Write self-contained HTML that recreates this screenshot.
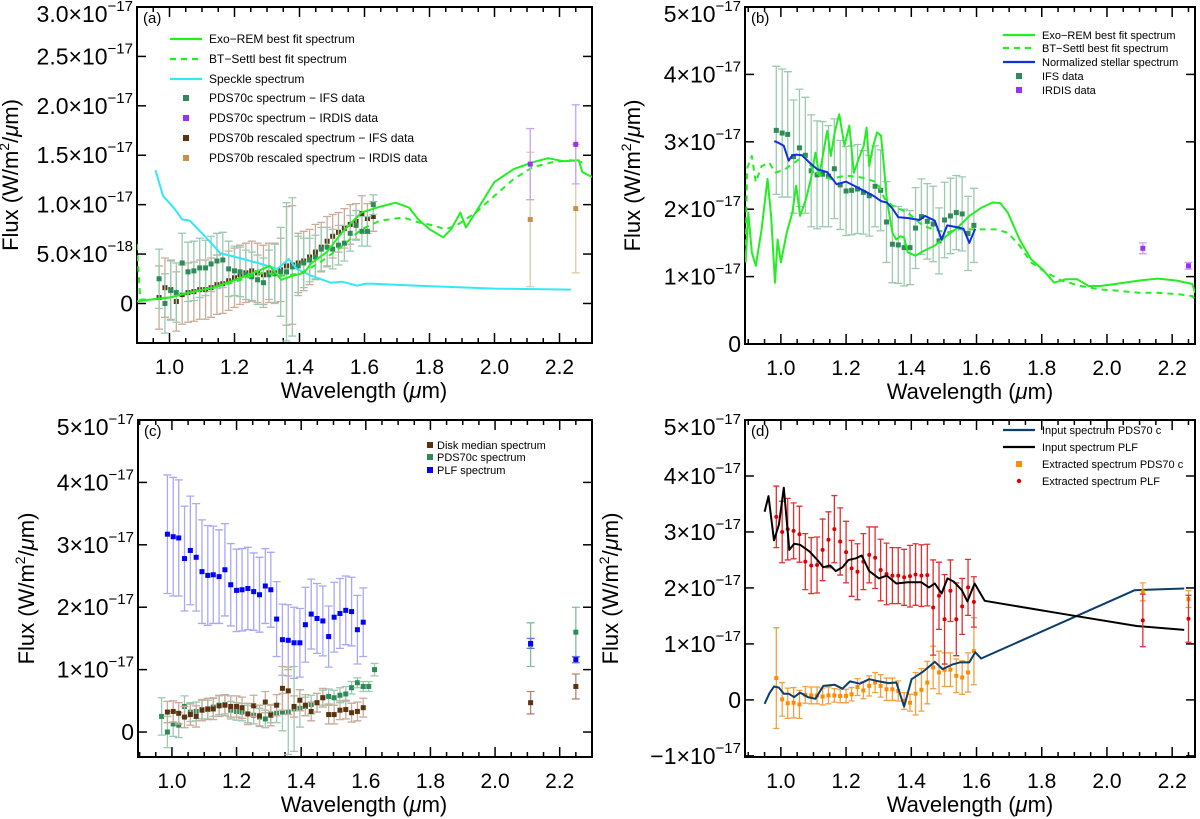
<!DOCTYPE html>
<html><head><meta charset="utf-8">
<style>
html,body{margin:0;padding:0;background:#fff;}
svg{display:block;font-family:"Liberation Sans",sans-serif;}
</style></head>
<body>
<svg id="fig" width="1200" height="819" viewBox="0 0 1200 819" xmlns="http://www.w3.org/2000/svg"></svg>
<script>
// ---------- shared data ----------
const ifsWl = [0.968,0.986,1.004,1.021,1.039,1.057,1.075,1.093,1.111,1.128,1.146,1.164,1.182,1.200,1.217,1.235,1.253,1.271,1.289,1.306,1.324,1.342,1.360,1.378,1.396,1.413,1.431,1.449,1.467,1.485,1.502,1.520,1.538,1.556,1.574,1.592,1.609,1.627];
const plfWl = [0.986,1.004,1.021,1.039,1.057,1.075,1.093,1.111,1.128,1.146,1.164,1.182,1.200,1.217,1.235,1.253,1.271,1.289,1.306,1.324,1.342,1.360,1.378,1.396,1.413,1.431,1.449,1.467,1.485,1.502,1.520,1.538,1.556,1.574,1.592];
const irdisWl = [2.11,2.25];

// PDS70c IFS (green)
const cFlux = [0.25,0.0,0.13,0.11,0.41,0.32,0.33,0.36,0.36,0.40,0.43,0.44,0.35,0.33,0.32,0.29,0.27,0.24,0.21,0.29,0.30,0.32,0.32,0.37,0.38,0.41,0.44,0.47,0.55,0.57,0.55,0.59,0.61,0.71,0.79,0.73,0.73,1.0];
const cErrA = [0.3,0.3,0.3,0.3,0.3,0.3,0.3,0.3,0.28,0.28,0.28,0.28,0.28,0.25,0.25,0.25,0.25,0.25,0.25,0.25,0.3,0.45,0.7,0.7,0.3,0.25,0.22,0.22,0.22,0.2,0.2,0.2,0.18,0.18,0.15,0.15,0.15,0.1];
const cErrC = [0.3,0.25,0.2,0.2,0.17,0.15,0.15,0.15,0.15,0.15,0.15,0.15,0.14,0.14,0.14,0.14,0.14,0.14,0.14,0.14,0.15,0.3,0.68,0.68,0.3,0.15,0.15,0.15,0.12,0.12,0.12,0.12,0.12,0.1,0.08,0.08,0.08,0.1];
const cIrdis = [1.41,1.61];
const cIrdisErr = [0.36,0.4];
const cIrdisC = [1.40,1.60];
const cIrdisErrC = [0.35,0.4];

// PDS70b rescaled IFS (brown) panel a
const bFlux = [0.06,0.16,0.14,0.02,0.09,0.11,0.12,0.14,0.14,0.16,0.19,0.20,0.23,0.26,0.29,0.31,0.33,0.31,0.29,0.31,0.31,0.34,0.38,0.39,0.41,0.43,0.47,0.52,0.57,0.63,0.68,0.72,0.76,0.80,0.83,0.91,0.86,0.88];
const bErr = [0.32,0.3,0.3,0.3,0.3,0.3,0.3,0.3,0.3,0.3,0.3,0.3,0.3,0.3,0.3,0.3,0.3,0.3,0.3,0.3,0.3,0.32,0.6,0.6,0.3,0.3,0.28,0.28,0.25,0.25,0.22,0.2,0.2,0.2,0.18,0.18,0.15,0.15];
const bIrdis = [0.85,0.96];
const bIrdisErr = [0.68,0.65];

// Exo-REM / BT-Settl / speckle (panel a)
const exoAWl = [0.898,0.945,1.0,1.062,1.133,1.203,1.273,1.308,1.344,1.379,1.414,1.437,1.484,1.531,1.59,1.649,1.696,1.737,1.766,1.801,1.842,1.866,1.895,1.912,1.936,2.0,2.059,2.118,2.165,2.212,2.259,2.27,2.3];
const exoAF = [0.02,0.04,0.06,0.11,0.16,0.24,0.33,0.38,0.24,0.28,0.31,0.41,0.52,0.72,0.92,0.98,1.02,0.97,0.85,0.75,0.67,0.75,0.92,0.77,0.89,1.23,1.36,1.43,1.47,1.44,1.45,1.33,1.28];
const btAWl = [0.9,0.902,0.91,0.945,1.0,1.062,1.133,1.203,1.273,1.297,1.344,1.4,1.461,1.531,1.59,1.649,1.72,1.766,1.813,1.848,1.883,1.942,2.0,2.059,2.118,2.177,2.235,2.27];
const btAF = [0.6,0.45,0.04,0.04,0.06,0.11,0.16,0.22,0.3,0.31,0.28,0.3,0.41,0.58,0.75,0.84,0.87,0.82,0.79,0.75,0.79,0.92,1.09,1.26,1.38,1.43,1.45,1.43];
const speckWl = [0.957,0.98,1.015,1.039,1.062,1.109,1.156,1.203,1.273,1.332,1.367,1.391,1.437,1.496,1.531,1.578,1.601,1.625,1.766,2.0,2.235];
const speckF = [1.35,1.09,0.96,0.85,0.84,0.68,0.51,0.47,0.41,0.35,0.45,0.35,0.28,0.21,0.22,0.18,0.2,0.2,0.18,0.15,0.14];

// PLF (panel b IFS data / panel c blue)
const plfFlux = [3.17,3.13,3.11,2.78,2.91,2.80,2.57,2.51,2.52,2.49,2.60,2.36,2.27,2.28,2.30,2.25,2.20,2.34,2.28,1.81,1.48,1.47,1.43,1.43,1.72,1.89,1.82,1.78,1.53,1.84,1.90,1.95,1.93,1.64,1.76];
const plfErr = [0.95,0.95,0.93,0.84,0.87,0.86,0.83,0.8,0.78,0.75,0.74,0.66,0.66,0.66,0.66,0.62,0.6,0.6,0.6,0.6,0.57,0.57,0.57,0.55,0.6,0.56,0.56,0.56,0.49,0.56,0.56,0.55,0.55,0.55,0.55];
const plfIrdis = [1.42,1.16];
const plfIrdisErr = [0.08,0.05];

// panel b models
const exoBWl = [0.892,0.9,0.911,0.923,0.941,0.959,0.97,0.982,0.99,1.0,1.018,1.035,1.047,1.059,1.077,1.092,1.106,1.118,1.142,1.153,1.165,1.179,1.195,1.21,1.224,1.238,1.254,1.263,1.271,1.283,1.295,1.307,1.316,1.325,1.342,1.354,1.366,1.378,1.389,1.413,1.437,1.472,1.507,1.543,1.578,1.614,1.649,1.673,1.696,1.732,1.767,1.802,1.838,1.873,1.909,1.944,1.979,2.026,2.097,2.156,2.215,2.262,2.27];
const exoBF = [1.21,1.95,1.36,1.16,1.7,2.45,1.9,0.91,1.55,1.21,1.65,1.95,2.35,1.9,2.15,2.45,2.84,2.5,3.16,2.79,3.14,3.41,2.94,3.24,2.54,2.74,2.94,3.21,2.64,2.94,3.14,3.09,2.64,2.15,1.65,1.55,1.6,1.58,1.36,1.31,1.38,1.46,1.6,1.73,1.9,2.02,2.1,2.09,1.95,1.55,1.26,1.11,0.91,0.96,0.96,0.86,0.86,0.89,0.94,0.97,0.94,0.89,0.76];
const btBWl = [0.892,0.896,0.911,0.923,0.941,0.965,0.982,1.012,1.035,1.071,1.106,1.153,1.2,1.248,1.295,1.319,1.342,1.389,1.437,1.472,1.507,1.543,1.59,1.625,1.66,1.696,1.732,1.767,1.814,1.861,1.92,1.979,2.038,2.097,2.156,2.215,2.262,2.27];
const btBF = [1.3,2.6,2.79,2.4,2.64,2.69,2.54,2.59,2.67,2.79,2.54,2.45,2.5,2.47,2.4,2.15,2.05,1.95,1.75,1.7,1.65,1.7,1.7,1.7,1.7,1.65,1.46,1.21,1.06,0.94,0.86,0.81,0.79,0.76,0.76,0.74,0.71,0.66];
const starWl = [0.98,0.994,1.009,1.024,1.035,1.047,1.065,1.088,1.112,1.142,1.171,1.2,1.224,1.26,1.283,1.307,1.325,1.342,1.36,1.389,1.425,1.442,1.472,1.493,1.51,1.543,1.56,1.578,1.596];
const starF = [3.01,2.98,2.94,2.72,2.80,2.81,2.80,2.69,2.59,2.55,2.37,2.41,2.35,2.26,2.20,2.12,2.1,2.01,1.88,1.87,1.84,1.90,1.83,1.55,1.76,1.73,1.71,1.5,1.71];

// panel c disk median
const diskFlux = [0.32,0.33,0.30,0.24,0.28,0.25,0.35,0.37,0.37,0.42,0.43,0.41,0.41,0.39,0.29,0.42,0.26,0.48,0.27,0.43,0.70,0.66,0.41,0.51,0.43,0.33,0.47,0.55,0.28,0.28,0.35,0.36,0.31,0.33,0.39];
const diskErr = [0.17,0.17,0.17,0.17,0.17,0.17,0.17,0.17,0.17,0.17,0.17,0.17,0.17,0.17,0.17,0.17,0.17,0.17,0.17,0.17,0.35,0.38,0.17,0.17,0.17,0.15,0.15,0.15,0.15,0.15,0.15,0.15,0.15,0.15,0.15];
const diskIrdis = [0.47,0.73];
const diskIrdisErr = [0.18,0.2];

// panel d
const inPlfWl = [0.95,0.962,0.979,0.994,1.009,1.026,1.041,1.059,1.088,1.112,1.13,1.151,1.168,1.189,1.207,1.23,1.248,1.271,1.301,1.325,1.354,1.389,1.431,1.454,1.472,1.493,1.511,1.531,1.555,1.572,1.594,1.625,1.861,2.091,2.237];
const inPlfF = [3.36,3.64,2.85,3.13,3.79,2.68,2.79,2.77,2.65,2.5,2.37,2.4,2.3,2.37,2.5,2.53,2.58,2.3,2.17,2.22,2.08,2.1,2.1,2.01,2.08,1.9,2.17,2.11,1.96,1.76,2.08,1.77,1.54,1.32,1.25];
const inCWl = [0.95,0.965,0.979,0.994,1.009,1.024,1.041,1.059,1.083,1.106,1.13,1.165,1.189,1.212,1.242,1.271,1.301,1.33,1.354,1.378,1.401,1.437,1.472,1.496,1.525,1.549,1.578,1.596,1.614,2.085,2.237];
const inCF = [-0.07,0.12,0.24,0.22,0.11,0.11,0.05,0.13,0.05,0.02,0.25,0.27,0.2,0.33,0.29,0.37,0.33,0.3,0.31,-0.12,0.37,0.51,0.68,0.55,0.63,0.67,0.67,0.85,0.74,1.96,1.99];
const exPlfF = [3.27,3.0,3.05,3.02,2.96,2.47,2.40,2.41,2.68,2.86,3.05,2.83,2.64,2.35,2.29,2.47,2.59,2.54,2.32,2.25,2.22,2.22,2.19,2.21,2.24,2.22,2.23,1.65,1.86,1.44,1.95,1.44,1.67,2.01,1.75];
const exPlfErr = [0.55,0.55,0.55,0.5,0.5,0.5,0.5,0.5,0.55,0.5,0.6,0.6,0.55,0.5,0.5,0.5,0.5,0.55,0.55,0.55,0.5,0.5,0.5,0.55,0.55,0.55,0.55,0.85,0.6,0.8,0.55,0.65,0.5,0.5,0.45];
const exPlfIrdis = [1.42,1.45];
const exPlfIrdisErr = [0.47,0.42];
const exCF = [0.39,0.01,-0.06,-0.05,-0.08,0.09,0.08,0.08,0.06,0.08,0.08,0.07,0.07,0.1,0.23,0.17,0.25,0.31,0.25,0.19,0.19,0.16,-0.02,-0.05,0.11,0.18,0.31,0.58,0.49,0.54,0.54,0.43,0.4,0.49,0.87];
const exCErr = [0.9,0.3,0.27,0.27,0.25,0.15,0.15,0.15,0.15,0.15,0.12,0.12,0.12,0.12,0.15,0.15,0.18,0.18,0.2,0.2,0.2,0.18,0.15,0.15,0.38,0.38,0.38,0.38,0.38,0.3,0.3,0.3,0.3,0.35,0.6];
const exCIrdis = [1.93,1.80];
const exCIrdisErr = [0.16,0.15];

// tick labels
const xTicks = [1.0,1.2,1.4,1.6,1.8,2.0,2.2];
const xTickLabels = ["1.0","1.2","1.4","1.6","1.8","2.0","2.2"];
const aYTicks = [0,0.5,1.0,1.5,2.0,2.5,3.0];
const aYMant = ["0","5.0×10","1.0×10","1.5×10","2.0×10","2.5×10","3.0×10"];
const aYExp = ["","−18","−17","−17","−17","−17","−17"];
const bYTicks = [0,1,2,3,4,5];
const bYMant = ["0","1×10","2×10","3×10","4×10","5×10"];
const bYExp = ["","−17","−17","−17","−17","−17"];
const dYTicks = [-1,0,1,2,3,4,5];
const dYMant = ["−1×10","0","1×10","2×10","3×10","4×10","5×10"];
const dYExp = ["−17","","−17","−17","−17","−17","−17"];

// ---------- drawing ----------
const NS = "http://www.w3.org/2000/svg";
const fig = document.getElementById('fig');
function mk(tag, attrs, parent){
  const e = document.createElementNS(NS, tag);
  for (const k in attrs) e.setAttribute(k, attrs[k]);
  (parent||fig).appendChild(e);
  return e;
}
function makePanel(P){
  const g = mk('g', {});
  
  
  P.g = g;
  P.sx = v => P.x0 + (v - P.xmin) / (P.xmax - P.xmin) * (P.x1 - P.x0);
  P.sy = v => P.y1 - (v - P.ymin) / (P.ymax - P.ymin) * (P.y1 - P.y0);
  return P;
}
function drawAxes(P, yT, yM, yE, ylabX, titleX){
  const g = P.g;
  const fr = mk('rect', {x:P.x0, y:P.y0, width:P.x1-P.x0, height:P.y1-P.y0, fill:'none', stroke:'#000', 'stroke-width':2}, g);
  
  
  for (let k = 0; k <= 30; k++){
    const v = 0.85 + k*0.05;
    if (v < P.xmin - 1e-6 || v > P.xmax + 1e-6) continue;
    const x = P.sx(v);
    const major = Math.abs(v*5 - Math.round(v*5)) < 1e-6;
    const L = major ? 10 : 5;
    const t1 = mk('line', {x1:x, x2:x, y1:P.y1, y2:P.y1-L, stroke:'#000', 'stroke-width':1.5}, g);
    
    
    const t2 = mk('line', {x1:x, x2:x, y1:P.y0, y2:P.y0+L, stroke:'#000', 'stroke-width':1.5}, g);
    
    
  }
  xTicks.forEach((v,i) => {
    const t = mk('text', {x:P.sx(v), y:P.y1+31, 'font-size':21, 'text-anchor':'middle'}, g);
    t.textContent = xTickLabels[i];
    
    
  });
  yT.forEach((v,i) => {
    const y = P.sy(v);
    const a = mk('line', {x1:P.x0, x2:P.x0+9, y1:y, y2:y, stroke:'#000', 'stroke-width':1.5}, g);
    
    
    const b = mk('line', {x1:P.x1, x2:P.x1-9, y1:y, y2:y, stroke:'#000', 'stroke-width':1.5}, g);
    
    
    const ly = (i === yT.length - 1) ? y + 15 : y + 8;
    const t = mk('text', {x:P.x0-4, y:ly, 'font-size':23, 'text-anchor':'end'}, g);
    
    
    const m = mk('tspan', {}, t); m.textContent = yM[i];
    if (yE[i]) { const s = mk('tspan', {'font-size':15, dy:-11}, t); s.textContent = yE[i]; }
  });
  const yl = mk('text', {transform:`translate(${ylabX},${(P.y0+P.y1)/2}) rotate(-90)`, 'font-size':22, 'text-anchor':'middle'}, g);
  
  
  yl.innerHTML = 'Flux  (W/m<tspan font-size="14" dy="-9">2</tspan><tspan dy="9">/</tspan><tspan font-style="italic">μ</tspan>m)';
  const xl = mk('text', {x:titleX, y:P.y1+55, 'font-size':22, 'text-anchor':'middle'}, g);
  
  
  xl.innerHTML = 'Wavelength  (<tspan font-style="italic">μ</tspan>m)';
  const pl = mk('text', {x:P.x0+6, y:P.y0+16, 'font-size':15}, g);
  pl.textContent = P.tag;
  
  
}
function clipFor(P){
  const id = 'clip-' + P.name;
  const cp = mk('clipPath', {id:id});
  mk('rect', {x:P.x0, y:P.y0, width:P.x1-P.x0, height:P.y1-P.y0}, cp);
  return 'url(#' + id + ')';
}
function drawLine(P, xs, ys, color, w, dash, name){
  let d = '';
  xs.forEach((x,i) => { d += (i ? 'L' : 'M') + P.sx(x).toFixed(1) + ',' + P.sy(ys[i]).toFixed(1); });
  const p = mk('path', {d:d, fill:'none', stroke:color, 'stroke-width':w, 'stroke-dasharray':dash||'none', 'clip-path':P.clip, 'stroke-linejoin':'round'}, P.g);
  
  
}
function drawPoints(P, xs, ys, es, color, ecolor, size, cap, name, round){
  xs.forEach((xv,i) => {
    const x = P.sx(xv), y = P.sy(ys[i]);
    if (es){
      const yt = P.sy(ys[i]+es[i]), yb = P.sy(ys[i]-es[i]);
      const e = mk('path', {d:`M${x},${yt}L${x},${yb}M${x-cap},${yt}L${x+cap},${yt}M${x-cap},${yb}L${x+cap},${yb}`, stroke:ecolor, 'stroke-width':1.3, fill:'none'}, P.g);
      
      
    }
    const r = round ? mk('circle', {cx:x, cy:y, r:size/2, fill:color}, P.g)
                    : mk('rect', {x:x-size/2, y:y-size/2, width:size, height:size, fill:color}, P.g);
    
    
  });
}
function legend(P, items, lx0, lx1, tx, fs){
  items.forEach(it => {
    if (it.type === 'line'){
      const l = mk('line', {x1:lx0, x2:lx1, y1:it.y-4, y2:it.y-4, stroke:it.color, 'stroke-width':2.2, 'stroke-dasharray':it.dash||'none'}, P.g);
      
      
    } else {
      const cx = (lx0+lx1)/2;
      const s = it.round ? mk('circle', {cx:cx, cy:it.y-4, r:2.2, fill:it.color}, P.g)
                         : mk('rect', {x:cx-3, y:it.y-7, width:6, height:6, fill:it.color}, P.g);
      
      
    }
    const t = mk('text', {x:tx, y:it.y, 'font-size':fs}, P.g);
    t.textContent = it.label;
    
    
  });
}

const GREEN = '#2e8b57', GREEN_E = '#9cc9b0', LIME = '#22ee22';

// Panel A
const A = makePanel({name:'panel-a', tag:'(a)', x0:137, x1:592, y0:7, y1:343, xmin:0.9, xmax:2.3, ymin:-0.4, ymax:3.0});
A.clip = clipFor(A);
drawAxes(A, aYTicks, aYMant, aYExp, 18, 364);
drawPoints(A, ifsWl, bFlux, bErr, '#5a3410', '#c8ad9c', 5, 4, 'pds70b-ifs');
drawPoints(A, ifsWl, cFlux, cErrA, GREEN, GREEN_E, 5, 4, 'pds70c-ifs');
drawLine(A, speckWl, speckF, '#33e8f5', 2, null, 'speckle-spectrum');
drawLine(A, btAWl, btAF, LIME, 2, '6,5', 'bt-settl-fit');
drawLine(A, exoAWl, exoAF, LIME, 2, null, 'exo-rem-fit');
drawPoints(A, irdisWl, bIrdis, bIrdisErr, '#c8904a', '#e2c9a8', 5, 4, 'pds70b-irdis');
drawPoints(A, irdisWl, cIrdis, cIrdisErr, '#9933ee', '#c9a3f0', 5, 4, 'pds70c-irdis');
legend(A, [
  {type:'line', color:LIME, y:43, label:'Exo−REM best fit spectrum'},
  {type:'line', color:LIME, dash:'6,5', y:63, label:'BT−Settl best fit spectrum'},
  {type:'line', color:'#33e8f5', y:83, label:'Speckle spectrum'},
  {type:'pt', color:GREEN, y:102, label:'PDS70c spectrum  −  IFS data'},
  {type:'pt', color:'#9933ee', y:122, label:'PDS70c spectrum  −  IRDIS data'},
  {type:'pt', color:'#5a3410', y:142, label:'PDS70b rescaled spectrum  −  IFS data'},
  {type:'pt', color:'#c8904a', y:162, label:'PDS70b rescaled spectrum  −  IRDIS data'}
], 170, 202, 209, 12);

// Panel B
const B = makePanel({name:'panel-b', tag:'(b)', x0:745, x1:1195, y0:7, y1:344, xmin:0.89, xmax:2.27, ymin:0, ymax:5});
B.clip = clipFor(B);
drawAxes(B, bYTicks, bYMant, bYExp, 640, 970);
drawPoints(B, plfWl, plfFlux, plfErr, GREEN, GREEN_E, 5, 4, 'ifs-data');
drawLine(B, btBWl, btBF, LIME, 2, '6,5', 'bt-settl-fit');
drawLine(B, exoBWl, exoBF, LIME, 2, null, 'exo-rem-fit');
drawLine(B, starWl, starF, '#1030e0', 2, null, 'normalized-stellar-spectrum');
drawPoints(B, irdisWl, plfIrdis, plfIrdisErr, '#9933ee', '#c9a3f0', 5, 4, 'irdis-data');
legend(B, [
  {type:'line', color:LIME, y:39, label:'Exo−REM best fit spectrum'},
  {type:'line', color:LIME, dash:'6,5', y:52, label:'BT−Settl best fit spectrum'},
  {type:'line', color:'#1030e0', y:66, label:'Normalized stellar spectrum'},
  {type:'pt', color:GREEN, y:80, label:'IFS data'},
  {type:'pt', color:'#9933ee', y:94, label:'IRDIS data'}
], 1003, 1035, 1042, 11);

// Panel C
const C = makePanel({name:'panel-c', tag:'(c)', x0:138, x1:592, y0:420, y1:757, xmin:0.895, xmax:2.3, ymin:-0.4, ymax:5});
C.clip = clipFor(C);
drawAxes(C, bYTicks, bYMant, bYExp, 34, 364);
drawPoints(C, plfWl, plfFlux, plfErr, '#0000ff', '#a8a8f5', 5, 4, 'plf-spectrum');
drawPoints(C, ifsWl, cFlux, cErrC, GREEN, GREEN_E, 5, 4, 'pds70c-spectrum');
drawPoints(C, plfWl, diskFlux, diskErr, '#5a3410', '#c8ad9c', 5, 4, 'disk-median');
drawPoints(C, irdisWl, cIrdisC, cIrdisErrC, GREEN, '#7fbf9a', 5, 4, 'pds70c-irdis');
drawPoints(C, irdisWl, diskIrdis, diskIrdisErr, '#5a3410', '#b08a70', 5, 4, 'disk-irdis');
drawPoints(C, irdisWl, plfIrdis, plfIrdisErr, '#0000ff', '#7070f0', 5, 4, 'plf-irdis');
legend(C, [
  {type:'pt', color:'#5a3410', y:449, label:'Disk median spectrum'},
  {type:'pt', color:GREEN, y:461, label:'PDS70c spectrum'},
  {type:'pt', color:'#0000ff', y:474, label:'PLF spectrum'}
], 427, 433, 437, 11);

// Panel D
const D = makePanel({name:'panel-d', tag:'(d)', x0:745, x1:1195, y0:420, y1:757, xmin:0.89, xmax:2.27, ymin:-1.02, ymax:5});
D.clip = clipFor(D);
drawAxes(D, dYTicks, dYMant, dYExp, 618, 970);
drawPoints(D, plfWl, exCF, exCErr, '#ff8c00', '#f5a040', 4, 3, 'extracted-pds70c');
drawPoints(D, plfWl, exPlfF, exPlfErr, '#dd0000', '#e03030', 4, 3, 'extracted-plf', true);
drawLine(D, inCWl, inCF, '#0b3d6b', 2, null, 'input-pds70c');
drawLine(D, inPlfWl, inPlfF, '#000', 2, null, 'input-plf');
drawPoints(D, irdisWl, exCIrdis, exCIrdisErr, '#ff8c00', '#f5a040', 4, 3, 'extracted-pds70c-irdis');
drawPoints(D, irdisWl, exPlfIrdis, exPlfIrdisErr, '#dd0000', '#e03030', 4, 3, 'extracted-plf-irdis', true);
legend(D, [
  {type:'line', color:'#0b3d6b', y:434, label:'Input spectrum PDS70 c'},
  {type:'line', color:'#000', y:451, label:'Input spectrum PLF'},
  {type:'pt', color:'#ff8c00', y:468, label:'Extracted spectrum PDS70 c'},
  {type:'pt', color:'#dd0000', round:true, y:485, label:'Extracted spectrum PLF'}
], 1003, 1035, 1042, 11);
</script>
</body></html>
